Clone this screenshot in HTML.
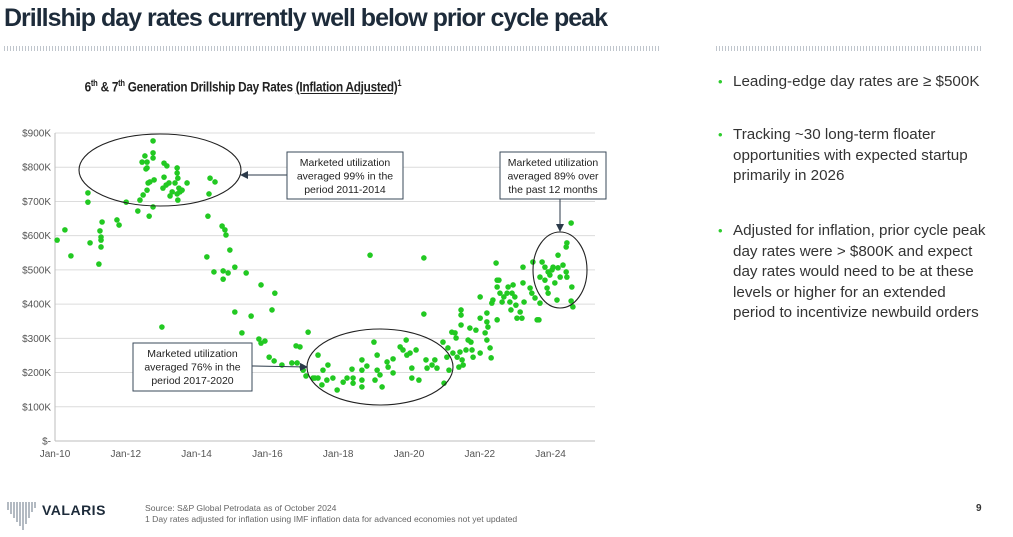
<!DOCTYPE html>
<html><head><meta charset="utf-8">
<style>
body{margin:0;width:1013px;height:537px;background:#fff;position:relative;overflow:hidden;font-family:"Liberation Sans",sans-serif;}
.abs{position:absolute;}
#title{left:4px;top:4px;font-size:25px;font-weight:bold;color:#1d2b3a;letter-spacing:-1px;white-space:nowrap;}
.dots{height:5px;background:repeating-linear-gradient(90deg,#bfc5cc 0 1px,transparent 1px 3px);}
#subtitle{left:6px;width:474px;top:78px;text-align:center;font-size:14px;font-weight:bold;color:#222;letter-spacing:-0.3px;transform:scaleX(0.84);transform-origin:237px 0;white-space:nowrap;}
#subtitle sup{font-size:9px;}
.bul{left:718px;font-size:15.2px;color:#333;line-height:20.6px;width:272px;}
.bul .b{position:absolute;left:0;color:#2ecc2e;font-size:13px;}
.bul .t{margin-left:15px;display:block;}
#foot{left:145px;top:503px;font-size:8.6px;color:#666;line-height:11px;}
</style></head><body>
<div class="abs" id="title">Drillship day rates currently well below prior cycle peak</div>
<div class="abs dots" style="left:4px;top:46px;width:656px"></div>
<div class="abs dots" style="left:716px;top:46px;width:266px"></div>
<div class="abs" id="subtitle">6<sup>th</sup> &amp; 7<sup>th</sup> Generation Drillship Day Rates <u>(Inflation Adjusted)</u><sup>1</sup></div>

<div class="abs bul" style="top:72px"><span class="b">•</span><span class="t">Leading-edge day rates are ≥ $500K</span></div>
<div class="abs bul" style="top:125px"><span class="b">•</span><span class="t">Tracking ~30 long-term floater opportunities with expected startup primarily in 2026</span></div>
<div class="abs bul" style="top:221px"><span class="b">•</span><span class="t">Adjusted for inflation, prior cycle peak day rates were &gt; $800K and expect day rates would need to be at these levels or higher for an extended period to incentivize newbuild orders</span></div>

<svg class="abs" style="left:0;top:0" width="1013" height="537" id="chart">
<defs><marker id="ar" markerWidth="8" markerHeight="8" refX="7" refY="4" orient="auto"><path d="M0,0 L8,4 L0,8 z" fill="#2b3a4a"/></marker></defs>
<g id="grid"></g><g id="pts"></g><g id="ann"></g>
</svg>

<div class="abs" style="left:5px;top:500px">
<svg width="40" height="32"><g stroke="#8a94a0" stroke-width="1.3">
<line x1="3" y1="2" x2="3" y2="10"/><line x1="6" y1="2" x2="6" y2="14"/><line x1="9" y1="2" x2="9" y2="18"/><line x1="12" y1="2" x2="12" y2="22"/><line x1="15" y1="2" x2="15" y2="26"/><line x1="18" y1="2" x2="18" y2="30"/><line x1="21" y1="2" x2="21" y2="24"/><line x1="24" y1="2" x2="24" y2="18"/><line x1="27" y1="2" x2="27" y2="12"/><line x1="30" y1="2" x2="30" y2="8"/></g></svg></div>
<div class="abs" style="left:42px;top:502px;font-size:14px;font-weight:bold;color:#1d2b3a;letter-spacing:0.5px">VALARIS</div>
<div class="abs" id="foot">Source: S&amp;P Global Petrodata as of October 2024<br>1 Day rates adjusted for inflation using IMF inflation data for advanced economies not yet updated</div>
<div class="abs" style="left:976px;top:503px;font-size:10px;font-weight:bold;color:#333">9</div>

<script>
const yTicks=[0,100,200,300,400,500,600,700,800,900];
const yTickLabels=["$-","$100K","$200K","$300K","$400K","$500K","$600K","$700K","$800K","$900K"];
const xTicks=[2010,2012,2014,2016,2018,2020,2022,2024];
const xTickLabels=["Jan-10","Jan-12","Jan-14","Jan-16","Jan-18","Jan-20","Jan-22","Jan-24"];
const dates=[2010.06,2010.28,2010.45,2010.93,2010.93,2010.99,2011.24,2011.27,2011.30,2011.30,2011.30,2011.33,2011.75,2011.81,2012.01,2012.34,2012.40,2012.49,2012.60,2012.66,2012.46,2012.54,2012.60,2012.60,2012.57,2012.63,2012.68,2012.77,2012.77,2012.77,2012.80,2012.77,2013.02,2013.05,2013.08,2013.08,2013.16,2013.14,2013.22,2013.25,2013.31,2013.39,2013.45,2013.45,2013.47,2013.50,2013.47,2013.53,2013.59,2013.45,2013.73,2014.32,2014.38,2014.52,2014.35,2014.29,2014.49,2014.72,2014.80,2014.83,2014.94,2014.75,2014.89,2014.75,2015.08,2015.40,2015.08,2015.28,2015.54,2015.82,2016.21,2016.13,2015.76,2015.82,2015.93,2016.05,2016.19,2016.41,2016.69,2016.84,2016.81,2016.92,2016.98,2017.01,2017.09,2017.15,2017.29,2017.43,
2017.43,2017.57,2017.71,2017.34,2017.54,2017.68,2017.85,2017.97,2018.14,2018.25,2018.39,2018.42,2018.42,2018.67,2018.67,2018.67,2018.67,2018.81,2018.90,2019.01,2019.10,2019.10,2019.18,2019.24,2019.04,2019.38,2019.41,2019.55,2019.55,2019.75,2019.83,2019.92,2019.94,2020.03,2020.20,2020.08,2020.08,2020.28,2020.42,2020.42,2020.48,2020.51,2020.65,2020.73,2020.79,2020.96,2020.99,2021.07,2021.10,2021.13,2021.21,2021.24,2021.30,2021.33,2021.36,2021.41,2021.44,2021.47,2021.47,2021.47,2021.50,2021.53,2021.61,2021.67,2021.72,2021.75,2021.78,2021.81,2021.89,2022.01,2022.01,2022.01,2022.15,2022.20,2022.20,2022.20,2022.23,2022.29,2022.32,2022.34,2022.37,2022.46,2022.49,2022.49,2022.49,2022.54,2022.57,2022.63,2022.68,2022.77,2022.80,2022.85,2022.88,2022.91,2022.94,2022.99,2023.02,2023.05,2023.14,2023.19,2023.22,2023.22,2023.25,2023.42,2023.47,2023.56,2023.62,2023.67,2023.70,2023.50,2023.70,2023.76,2023.84,2023.84,2023.90,2023.93,2023.98,2024.04,2024.07,2024.12,2024.18,2024.21,2024.27,2024.35,2024.44,2024.46,2024.44,2024.46,2024.58,2024.60,2024.58,2024.63,2024.21,2023.93];
const rates=[587,617,541,725,698,579,517,614,596,587,567,640,646,631,698,672,704,719,733,657,815,833,815,798,795,754,757,877,842,827,763,684,333,739,771,812,804,748,754,716,728,754,783,798,768,739,704,728,733,722,754,657,768,757,722,538,494,628,617,602,558,497,491,473,508,491,377,316,365,456,432,383,298,286,292,245,234,222,228,228,278,275,216,207,190,318,184,184,
251,207,222,184,164,178,184,149,172,184,210,169,184,237,207,178,158,219,543,289,251,207,193,158,178,231,216,240,199,275,266,295,251,257,266,213,184,178,535,371,237,213,222,237,213,289,169,245,272,207,318,257,316,301,245,216,260,383,368,339,237,222,266,295,330,289,266,245,324,421,359,257,316,348,295,374,333,272,243,403,412,520,470,450,354,470,432,406,421,432,450,406,383,432,456,421,397,359,377,359,508,462,406,447,432,418,354,354,403,523,479,523,508,470,447,432,485,500,508,462,412,543,479,514,567,579,494,479,637,450,409,392,506,494];

const X0=55,XPY=35.4,Y0=441,YPK=0.3422,XR=595;
const xs=d=>X0+(d-2010)*XPY;
const ys=v=>Y0-v*YPK;
const NS="http://www.w3.org/2000/svg";
function mk(tag,attrs,parent,txt){const e=document.createElementNS(NS,tag);for(const k in attrs)e.setAttribute(k,attrs[k]);if(txt!==undefined)e.textContent=txt;parent.appendChild(e);return e;}
const grid=document.getElementById('grid'),pts=document.getElementById('pts'),ann=document.getElementById('ann');
yTicks.forEach((t,i)=>{
  const l=mk('line',{x1:X0,x2:XR,y1:ys(t),y2:ys(t),stroke:t===0?'#bdbdbd':'#dcdcdc','stroke-width':1},grid);
  
  
  const tx=mk('text',{x:51,y:ys(t)+3.5,'text-anchor':'end','font-size':10,fill:'#555'},grid,yTickLabels[i]);
  
  
});
mk('line',{x1:X0,x2:X0,y1:ys(0),y2:ys(900),stroke:'#bdbdbd'},grid);
xTicks.forEach((t,i)=>{
  const tx=mk('text',{x:xs(t),y:457,'text-anchor':'middle','font-size':10,fill:'#555'},grid,xTickLabels[i]);
  
  
});
dates.forEach((d,i)=>{
  const c=mk('circle',{cx:xs(d),cy:ys(rates[i]),r:2.8,fill:'#22c922'},pts);
  
  
});
function box(x,y,w,h,lines,name){
  const g=mk('g',{},ann);
  
  
  mk('rect',{x:x,y:y,width:w,height:h,fill:'#fff',stroke:'#3a4a5a','stroke-width':1},g);
  lines.forEach((s,i)=>mk('text',{x:x+w/2,y:y+14+i*13.5,'text-anchor':'middle','font-size':10.5,fill:'#222'},g,s));
}
const e1=mk('ellipse',{cx:160,cy:170,rx:81,ry:36,fill:'none',stroke:'#222','stroke-width':1.1},ann);


const e2=mk('ellipse',{cx:380,cy:367,rx:73,ry:38,fill:'none',stroke:'#222','stroke-width':1.1},ann);


const e3=mk('ellipse',{cx:560,cy:270,rx:27,ry:38,fill:'none',stroke:'#222','stroke-width':1.1},ann);


mk('line',{x1:287,y1:175,x2:241,y2:175,stroke:'#2b3a4a','marker-end':'url(#ar)'},ann);
mk('line',{x1:560,y1:199,x2:560,y2:231,stroke:'#2b3a4a','marker-end':'url(#ar)'},ann);
mk('line',{x1:252,y1:366,x2:307,y2:367,stroke:'#2b3a4a','marker-end':'url(#ar)'},ann);
box(287,152,116,47,["Marketed utilization","averaged 99% in the","period 2011-2014"],'annotation-2011-2014');
box(500,152,106,47,["Marketed utilization","averaged 89% over","the past 12 months"],'annotation-last-12-months');
box(133,343,119,48,["Marketed utilization","averaged 76% in the","period 2017-2020"],'annotation-2017-2020');
</script>
</body></html>
